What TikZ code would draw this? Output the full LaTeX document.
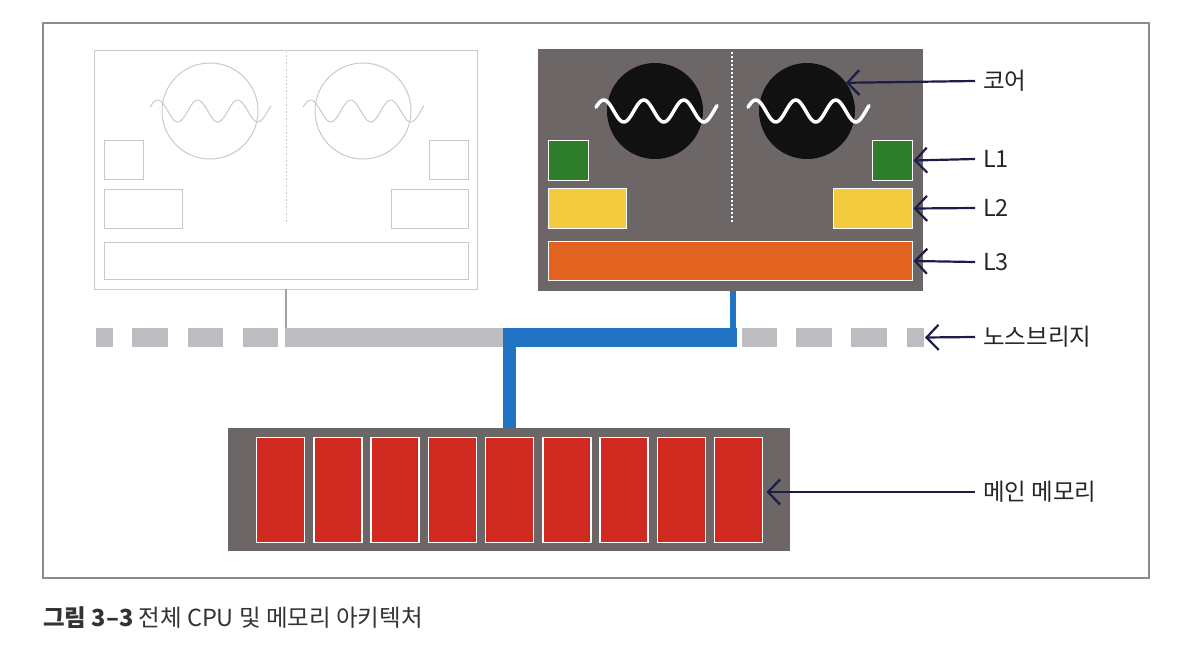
\documentclass[tikz,border=0pt]{standalone}
\usepackage{fontspec}
\setmainfont{Noto Sans CJK KR}
\usetikzlibrary{arrows.meta}
\definecolor{framec}{HTML}{8C8C8C}
\definecolor{fadec}{HTML}{CCC8C8}
\definecolor{cpuc}{HTML}{6C6666}
\definecolor{corec}{HTML}{111111}
\definecolor{l1c}{HTML}{2E7D2A}
\definecolor{l2c}{HTML}{F4CB3E}
\definecolor{l3c}{HTML}{E2621F}
\definecolor{memc}{HTML}{D02A20}
\definecolor{busc}{HTML}{2174C4}
\definecolor{nbc}{HTML}{BDBCC0}
\definecolor{arrc}{HTML}{1C1C48}
\definecolor{capc}{HTML}{333333}
\begin{document}
\begin{tikzpicture}[x=1pt,y=-1pt,
  fadebox/.style={draw=fadec, line width=1pt, inner sep=0pt, outer sep=0pt},
  cachebox/.style={draw=white, line width=1.8pt, inner sep=0pt, outer sep=0pt},
  nbseg/.style={fill=nbc, inner sep=0pt, outer sep=0pt, minimum height=19pt},
  slot/.style={fill=memc, draw=white, line width=1.5pt, inner sep=0pt, outer sep=0pt, minimum width=48pt, minimum height=105pt},
  arr/.style={draw=arrc, line width=2.2pt, -{Straight Barb[length=12pt,width=25pt,line width=2.2pt]}},
  lab/.style={anchor=west, inner sep=0pt, font=\fontsize{23.5pt}{28pt}\selectfont, text=black!85},
  wavew/.style={draw=white, line width=3.5pt, line cap=round},
  wavef/.style={draw=fadec, line width=1pt}
]
\useasboundingbox (0,0) rectangle (1186,658);
% outer frame
\node[draw=framec, line width=1.2pt, inner sep=0pt, minimum width=1106pt, minimum height=555pt] (frame) at (596,300.5) {};

% ---------------- faded CPU (left)
\node[fadebox, minimum width=383pt, minimum height=238pt] (cpuf) at (285.5,170) {};
\draw[fadec, line width=0.9pt, dash pattern=on 1.5pt off 2pt] (286,52) -- (286,222);
\node[fadebox, circle, minimum size=96pt] (corefl) at (210,111) {};
\node[fadebox, circle, minimum size=96pt] (corefr) at (363,111) {};
\draw[wavef] plot[domain=0:121, samples=90] ({150+\x},{111-11*sin(9*\x+20)});
\draw[wavef] plot[domain=0:121, samples=90] ({303+\x},{111-11*sin(9*\x+20)});
\node[fadebox, minimum width=39pt, minimum height=38pt] (fl1l) at (123.5,160) {};
\node[fadebox, minimum width=39pt, minimum height=38pt] (fl1r) at (448.5,160) {};
\node[fadebox, minimum width=78pt, minimum height=39pt] (fl2l) at (143,208.5) {};
\node[fadebox, minimum width=77pt, minimum height=39pt] (fl2r) at (429.5,208.5) {};
\node[fadebox, minimum width=364pt, minimum height=37pt] (fl3) at (286,260.5) {};

% ---------------- active CPU (right)
\node[fill=cpuc, inner sep=0pt, outer sep=0pt, minimum width=385pt, minimum height=242pt] (cpu) at (730.5,170) {};
\draw[white, line width=2.5pt, dash pattern=on 2pt off 2pt] (732,52) -- (732,223);
\node[circle, fill=corec, inner sep=0pt, outer sep=0pt, minimum size=96pt] (corel) at (655,111) {};
\node[circle, fill=corec, inner sep=0pt, outer sep=0pt, minimum size=96pt] (corer) at (807,111) {};
\draw[wavew] plot[domain=0:121, samples=90] ({596+\x},{111-11*sin(9*\x+20)});
\draw[wavew] plot[domain=0:121, samples=90] ({748+\x},{111-11*sin(9*\x+20)});
\node[cachebox, fill=l1c, minimum width=40pt, minimum height=40pt] (l1l) at (568.5,160.5) {};
\node[cachebox, fill=l1c, minimum width=40pt, minimum height=40pt] (l1r) at (892.5,160.5) {};
\node[cachebox, fill=l2c, minimum width=78pt, minimum height=40pt] (l2l) at (587.5,208.5) {};
\node[cachebox, fill=l2c, minimum width=79pt, minimum height=40pt] (l2r) at (873,208.5) {};
\node[cachebox, fill=l3c, minimum width=364pt, minimum height=39pt] (l3) at (730.5,261) {};

% ---------------- north bridge
\node[nbseg, minimum width=17pt] (nb1) at (104.5,337.5) {};
\node[nbseg, minimum width=36pt] (nb2) at (150,337.5) {};
\node[nbseg, minimum width=35pt] (nb3) at (205.5,337.5) {};
\node[nbseg, minimum width=35pt] (nb4) at (260.5,337.5) {};
\node[nbseg, minimum width=452pt] (nbmid) at (511,337.5) {};
\node[nbseg, minimum width=35pt] (nb5) at (759.5,337.5) {};
\node[nbseg, minimum width=36pt] (nb6) at (814,337.5) {};
\node[nbseg, minimum width=36pt] (nb7) at (869,337.5) {};
\node[nbseg, minimum width=17pt] (nbend) at (915.5,337.5) {};

% connector from faded CPU
\coordinate (fport) at (286,289);
\coordinate (fjoin) at (286,328);
\draw[draw=nbc!85!black, line width=1.4pt] (fport) -- (fjoin);

% ---------------- main memory
\node[fill=cpuc, inner sep=0pt, outer sep=0pt, minimum width=562pt, minimum height=123pt] (mem) at (509,489.5) {};
\foreach \i in {0,...,8} {
  \node[slot] (slot\i) at ({280.5+57.25*\i},490) {};
}

% ---------------- blue bus
\coordinate (cport) at (732.5,291);
\coordinate (cjoin) at (732.5,337.5);
\coordinate (bleft) at (503,337.5);
\coordinate (bright) at (737,337.5);
\coordinate (mport) at (509.5,337.5);
\draw[busc, line width=6pt] (cport) -- (cjoin);
\draw[busc, line width=19pt] (bleft) -- (bright);
\draw[busc, line width=13pt] (mport) -- (mport |- mem.north);

% ---------------- labels and arrows
\node[lab] (labcore) at (983,81) {코어};
\node[lab] (lab1) at (983,159) {L1};
\node[lab] (lab2) at (983,208) {L2};
\node[lab] (lab3) at (983,262) {L3};
\node[lab] (labnb) at (983,337) {노스브리지};
\node[lab] (labmem) at (983,492) {메인 메모리};

\draw[arr] ([xshift=-8pt]labcore.west) -- (corer.36);
\draw[arr] ([xshift=-8pt]lab1.west) -- ([xshift=1pt]l1r.east);
\draw[arr] ([xshift=-8pt]lab2.west) -- ([xshift=1pt]l2r.east);
\draw[arr] ([xshift=-8pt]lab3.west) -- ([xshift=1pt]l3.east);
\draw[arr] ([xshift=-8pt]labnb.west) -- ([xshift=1pt]nbend.east);
\draw[arr] ([xshift=-8pt]labmem.west) -- ([xshift=4pt]slot8.east |- labmem.west);

% ---------------- caption
\node[anchor=west, inner sep=0pt, text=capc, font=\fontsize{23.5pt}{28pt}\selectfont] (cap) at (43,618) {{\bfseries 그림 3–3} 전체 CPU 및 메모리 아키텍처};
\end{tikzpicture}
\end{document}
